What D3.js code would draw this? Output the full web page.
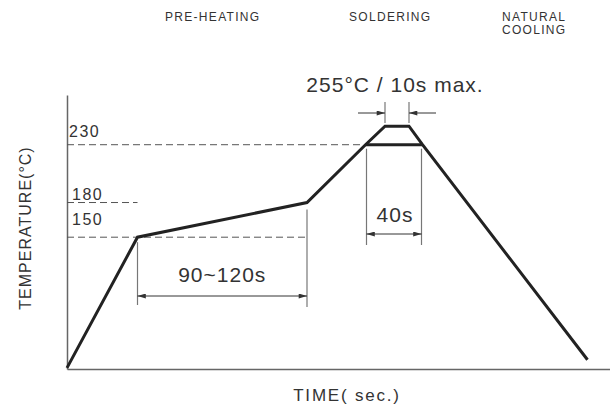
<!DOCTYPE html>
<html>
<head>
<meta charset="utf-8">
<script src="https://cdn.jsdelivr.net/npm/d3@7"></script>
<style>
  html, body { margin: 0; padding: 0; background: #fff; }
  svg { display: block; font-family: "Liberation Sans", Arial, sans-serif; }
  .txt { fill: #333; }
</style>
</head>
<body>
<svg id="chart" width="610" height="405"></svg>
<script>
// reflow profile (time in s, temperature in °C)
const profileTime = [0, 47, 160, 199, 212, 228, 237, 347];
const profileTemp = [37, 150, 180, 230, 246, 246, 230, 44];

const refTemps = [230, 180, 150];
const refTimes = [199, 47, 160]; // where each dashed guide meets the curve
const phaseLabels = [
  { lines: ["PRE-HEATING"], x: 165 },
  { lines: ["SOLDERING"], x: 349 },
  { lines: ["NATURAL", "COOLING"], x: 502 }
];

const svg = d3.select("#chart");
const x = d3.scaleLinear().domain([0, 362]).range([67, 610]);
const y = d3.scaleLinear().domain([36, 273]).range([369, 95]);

const defs = svg.append("defs");
defs.append("marker")
  .attr("id", "arrow")
  .attr("viewBox", "0 0 10 6")
  .attr("refX", 10).attr("refY", 3)
  .attr("markerUnits", "userSpaceOnUse")
  .attr("markerWidth", 10).attr("markerHeight", 5)
  .attr("orient", "auto-start-reverse")
  .append("path")
  .attr("d", "M0,0L10,3L0,6Z")
  .attr("fill", "#333");

// axes
svg.append("g")
  .attr("transform", `translate(0,${y(36)})`)
  .call(d3.axisBottom(x).tickValues([]).tickSizeOuter(0));
svg.append("g")
  .attr("transform", `translate(${x(0)},0)`)
  .call(d3.axisLeft(y).tickValues([]).tickSizeOuter(0));
svg.selectAll(".domain").attr("stroke", "#666").attr("stroke-width", 1.5);

// dashed guides + labels
refTemps.forEach((t, i) => {
  svg.append("line")
    .attr("x1", x(0)).attr("x2", x(refTimes[i]))
    .attr("y1", y(t)).attr("y2", y(t))
    .attr("stroke", "#555").attr("stroke-width", 1)
    .attr("stroke-dasharray", "7,4");
});
const labelDy = [8, 3, 12];
refTemps.forEach((t, i) => {
  svg.append("text").attr("class", "txt")
    .attr("x", i === 0 ? 69 : 72)
    .attr("y", y(t) - labelDy[i])
    .attr("font-size", 16).attr("letter-spacing", 1.5)
    .text(t);
});

// profile
const pts = profileTime.map((t, i) => [x(t), y(profileTemp[i])]);
svg.append("path")
  .attr("d", d3.line()(pts))
  .attr("fill", "none")
  .attr("stroke", "#222")
  .attr("stroke-width", 3)
  .attr("stroke-linejoin", "miter");
svg.append("line")
  .attr("x1", x(profileTime[3])).attr("x2", x(profileTime[6]))
  .attr("y1", y(230)).attr("y2", y(230))
  .attr("stroke", "#222").attr("stroke-width", 3);

// dimension helpers
function vline(xp, y1, y2) {
  svg.append("line")
    .attr("x1", xp).attr("x2", xp).attr("y1", y1).attr("y2", y2)
    .attr("stroke", "#777").attr("stroke-width", 1.2);
}
function arrowLine(x1, x2, yp, both) {
  svg.append("line")
    .attr("x1", x1).attr("x2", x2).attr("y1", yp).attr("y2", yp)
    .attr("stroke", "#333").attr("stroke-width", 1)
    .attr("marker-end", "url(#arrow)")
    .attr("marker-start", both ? "url(#arrow)" : null);
}
function label(txt, xp, yp, size, ls) {
  svg.append("text").attr("class", "txt")
    .attr("x", xp).attr("y", yp)
    .attr("text-anchor", "middle")
    .attr("font-size", size).attr("letter-spacing", ls)
    .text(txt);
}

// 90~120s
const pA = x(profileTime[1]), pB = x(profileTime[2]);
vline(pA, y(150) + 5, 305);
vline(pB, y(180) + 7, 307);
arrowLine(pA, pB, 296, true);
label("90~120s", (pA + pB) / 2, 282, 21, 1);

// 40s
const sA = x(profileTime[3]), sB = x(profileTime[6]);
vline(sA + 1, y(230) + 4, 245);
vline(sB - 1, y(230) + 4, 245);
arrowLine(sA + 1, sB - 1, 234, true);
label("40s", (sA + sB) / 2 + 1, 222, 21, 1);

// 255°C / 10s max.
const tA = x(profileTime[4]), tB = x(profileTime[5]);
vline(tA, 102, 123);
vline(tB, 102, 123);
arrowLine(tA - 27, tA, 113, false);
arrowLine(tB + 27, tB, 113, false);
label("255°C / 10s max.", 395, 92, 21, 1);

// axis titles
label("TIME( sec.)", 347, 401, 17, 1.8);
svg.append("text").attr("class", "txt")
  .attr("transform", "translate(31,228) rotate(-90)")
  .attr("text-anchor", "middle")
  .attr("font-size", 16).attr("letter-spacing", 1)
  .text("TEMPERATURE(°C)");

// phase labels
phaseLabels.forEach(p => {
  p.lines.forEach((l, i) => {
    svg.append("text").attr("class", "txt")
      .attr("x", p.x).attr("y", 21 + i * 12.5)
      .attr("font-size", 12).attr("letter-spacing", 1.3)
      .text(l);
  });
});
</script>
</body>
</html>
